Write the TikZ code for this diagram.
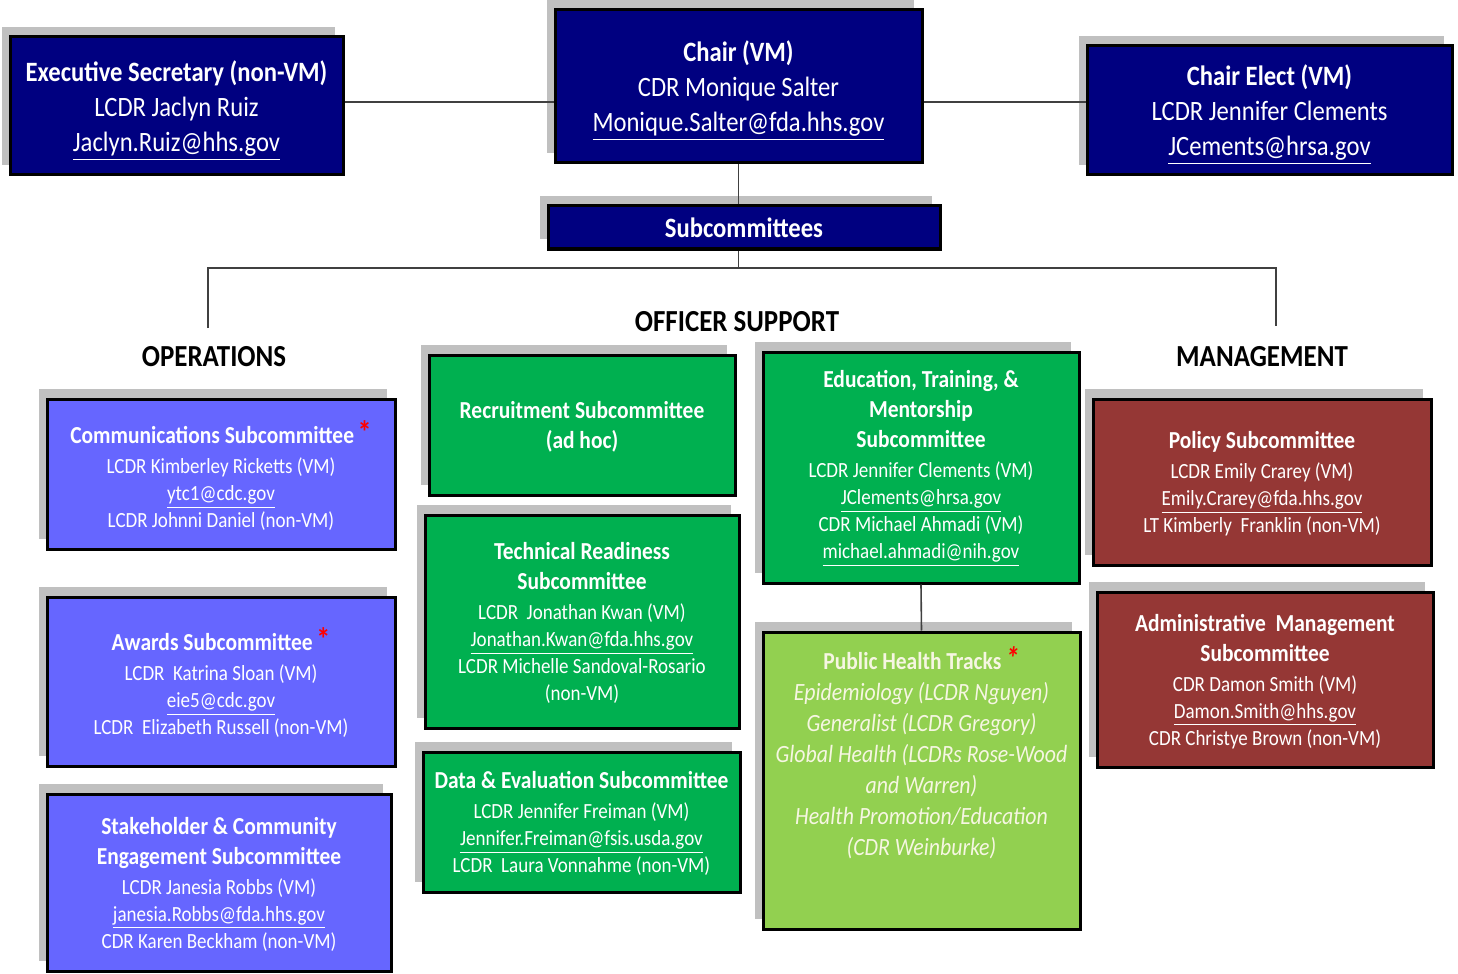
\documentclass[tikz,border=0pt]{standalone}
\usepackage{fontspec}
\setmainfont{Carlito}[FakeStretch=0.88]
\usetikzlibrary{shadows}
\definecolor{navy}{HTML}{000080}
\definecolor{opsblue}{HTML}{6666FF}
\definecolor{offgreen}{HTML}{00B050}
\definecolor{phtgreen}{HTML}{92D050}
\definecolor{mgmtred}{HTML}{953735}
\definecolor{shade}{HTML}{C0C0C0}
\definecolor{wire}{HTML}{404040}
\definecolor{cream}{HTML}{F6F6E2}
\newcommand{\topfont}{\fontsize{14}{17.5}\selectfont}
\newcommand{\namefont}{\fontsize{10.8}{13.5}\selectfont}
\newcommand{\subttl}[1]{{\upshape\bfseries\fontsize{12.2}{15}\selectfont #1}}
\newcommand{\redstar}{\,{\color{red}\bfseries\fontsize{16}{15}\selectfont *}}
\begin{document}
\begin{tikzpicture}[x=0.5pt,y=-0.5pt,
    wh/.style 2 args={minimum width=#1*0.5pt, minimum height=#2*0.5pt},
    box/.style={draw=black, line width=1.5pt, text=white, align=center, inner sep=2pt, text depth=-2pt,
      drop shadow={shadow xshift=-4pt, shadow yshift=5pt, fill=shade, opacity=1}},
    topbox/.style={box, fill=navy, font=\topfont},
    opsbox/.style={box, fill=opsblue, font=\namefont},
    offbox/.style={box, fill=offgreen, font=\namefont},
    phtbox/.style={box, fill=phtgreen},
    mgmtbox/.style={box, fill=mgmtred, font=\namefont},
    phttext/.style={text=cream, align=center, inner sep=0pt, font=\fontsize{12.4}{15.5}\selectfont\itshape},
    heading/.style={font=\fontsize{15.3}{16}\selectfont\bfseries},
    conn/.style={draw=wire, line width=0.8pt}]
  \useasboundingbox (0,0) rectangle (1458,974);

  % top row
  \node[topbox, wh={333}{138}] (exec) at (176.5,106) {\textbf{Executive Secretary (non-VM)}\\ LCDR Jaclyn Ruiz\\ \underline{Jaclyn.Ruiz@hhs.gov}};
  \node[topbox, wh={367}{153}, text depth=-5pt] (chair) at (738.5,86.5) {\textbf{Chair (VM)}\\ CDR Monique Salter\\ \underline{Monique.Salter@fda.hhs.gov}};
  \node[topbox, wh={365}{129}] (elect) at (1269.5,110.5) {\textbf{Chair Elect (VM)}\\ LCDR Jennifer Clements\\ \underline{JCements@hrsa.gov}};
  \node[topbox, wh={392}{43}, font=\topfont\bfseries] (subs) at (744,227.5) {Subcommittees};

  % group headings
  \node[heading] (ops) at (214,357) {OPERATIONS};
  \node[heading] (offsup) at (737,322) {OFFICER SUPPORT};
  \node[heading] (mgmt) at (1262,357) {MANAGEMENT};

  % operations
  \node[opsbox, wh={348}{150}] (comm) at (221,474) {\subttl{Communications Subcommittee}\redstar\\[1.5pt] LCDR Kimberley Ricketts (VM)\\ \underline{ytc1@cdc.gov}\\ LCDR Johnni Daniel (non-VM)};
  \node[opsbox, wh={348}{169}] (awards) at (221,681.5) {\subttl{Awards Subcommittee}\redstar\\[1.5pt] LCDR~ Katrina Sloan (VM)\\ \underline{eie5@cdc.gov}\\ LCDR~ Elizabeth Russell (non-VM)};
  \node[opsbox, wh={344}{177}] (stake) at (219,882.5) {\subttl{Stakeholder \& Community}\\[1.5pt] \subttl{Engagement Subcommittee}\\[1.5pt] LCDR Janesia Robbs (VM)\\ \underline{janesia.Robbs@fda.hhs.gov}\\ CDR Karen Beckham (non-VM)};

  % officer support
  \node[offbox, wh={306}{140}] (recruit) at (582,425) {\subttl{Recruitment Subcommittee}\\[1.5pt] \subttl{(ad hoc)}};
  \node[offbox, wh={314}{213}] (tech) at (582,621.5) {\subttl{Technical Readiness}\\[1.5pt] \subttl{Subcommittee}\\[1.5pt] LCDR~ Jonathan Kwan (VM)\\ \underline{Jonathan.Kwan@fda.hhs.gov}\\ LCDR Michelle Sandoval-Rosario\\ (non-VM)};
  \node[offbox, wh={317}{140}] (data) at (581.5,822) {\subttl{Data \& Evaluation Subcommittee}\\[1.5pt] LCDR Jennifer Freiman (VM)\\ \underline{Jennifer.Freiman@fsis.usda.gov}\\ LCDR~ Laura Vonnahme (non-VM)};
  \node[offbox, wh={316}{231}, text depth=3pt] (edu) at (921,467.5) {\subttl{Education, Training, \&}\\[1.5pt] \subttl{Mentorship}\\[1.5pt] \subttl{Subcommittee}\\[1.5pt] LCDR Jennifer Clements (VM)\\ \underline{JClements@hrsa.gov}\\ CDR Michael Ahmadi (VM)\\ \underline{michael.ahmadi@nih.gov}};
  \node[phtbox, wh={317}{297}] (pht) at (921.5,780.5) {};
  \node[phttext, anchor=north] (phtlist) at (921.5,646) {\subttl{Public Health Tracks}\redstar\\ Epidemiology (LCDR Nguyen)\\ Generalist (LCDR Gregory)\\ Global Health (LCDRs Rose-Wood\\ and Warren)\\ Health Promotion/Education\\ (CDR Weinburke)};

  % management
  \node[mgmtbox, wh={338}{166}] (policy) at (1262,482) {\subttl{Policy Subcommittee}\\[1.5pt] LCDR Emily Crarey (VM)\\ \underline{Emily.Crarey@fda.hhs.gov}\\ LT Kimberly~ Franklin (non-VM)};
  \node[mgmtbox, wh={336}{175}] (admin) at (1265,679.5) {\subttl{Administrative~ Management}\\[1.5pt] \subttl{Subcommittee}\\[1.5pt] CDR Damon Smith (VM)\\ \underline{Damon.Smith@hhs.gov}\\ CDR Christye Brown (non-VM)};

  % connectors
  \coordinate (busL) at (208,268);
  \coordinate (busR) at (1276,268);
  \coordinate (opsdrop) at (208,328);
  \coordinate (mgmtdrop) at (1276,326);
  \draw[conn] (exec.east |- 0,102) -- (chair.west |- 0,102);
  \draw[conn] (chair.east |- 0,102) -- (elect.west |- 0,102);
  \draw[conn] (chair.south) -- (chair.south |- subs.north);
  \draw[conn] (chair.south |- subs.south) -- (chair.south |- busL);
  \draw[conn] (opsdrop) -- (busL) -- (busR) -- (mgmtdrop);
  \draw[conn] (edu.south) -- (pht.north);
\end{tikzpicture}
\end{document}
